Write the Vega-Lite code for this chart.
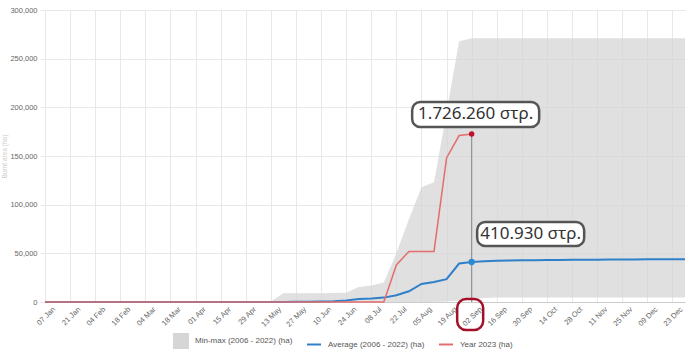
{
  "$schema": "https://vega.github.io/schema/vega-lite/v6.json",
  "width": 640,
  "height": 292,
  "autosize": {"type": "none"},
  "padding": {"left": 45, "top": 10, "right": 15, "bottom": 55},
  "background": "white",
  "config": {
    "view": {"stroke": null},
    "font": "Liberation Sans",
    "axis": {"gridColor": "#e8e8e8", "labelColor": "#666", "labelFontSize": 7.5, "titleColor": "#ccc"},
    "legend": {
      "labelFontSize": 8,
      "labelColor": "#555",
      "labelOffset": 6,
      "columnPadding": 10,
      "symbolSize": 196,
      "symbolStrokeWidth": 2
    }
  },
  "data": {
    "format": {"parse": {"date": "date:'%Y-%m-%d'"}},
    "values": [
      {"date": "2023-01-07", "min": 0, "max": 0, "avg": 0, "y2023": 0},
      {"date": "2023-01-14", "min": 0, "max": 0, "avg": 0, "y2023": 0},
      {"date": "2023-01-21", "min": 0, "max": 0, "avg": 0, "y2023": 0},
      {"date": "2023-01-28", "min": 0, "max": 0, "avg": 0, "y2023": 0},
      {"date": "2023-02-04", "min": 0, "max": 0, "avg": 0, "y2023": 0},
      {"date": "2023-02-11", "min": 0, "max": 0, "avg": 0, "y2023": 0},
      {"date": "2023-02-18", "min": 0, "max": 0, "avg": 0, "y2023": 0},
      {"date": "2023-02-25", "min": 0, "max": 0, "avg": 0, "y2023": 0},
      {"date": "2023-03-04", "min": 0, "max": 0, "avg": 0, "y2023": 0},
      {"date": "2023-03-11", "min": 0, "max": 0, "avg": 0, "y2023": 0},
      {"date": "2023-03-18", "min": 0, "max": 0, "avg": 0, "y2023": 0},
      {"date": "2023-03-25", "min": 0, "max": 0, "avg": 0, "y2023": 0},
      {"date": "2023-04-01", "min": 0, "max": 0, "avg": 0, "y2023": 0},
      {"date": "2023-04-08", "min": 0, "max": 0, "avg": 0, "y2023": 0},
      {"date": "2023-04-15", "min": 0, "max": 0, "avg": 0, "y2023": 0},
      {"date": "2023-04-22", "min": 0, "max": 0, "avg": 0, "y2023": 0},
      {"date": "2023-04-29", "min": 0, "max": 0, "avg": 0, "y2023": 0},
      {"date": "2023-05-06", "min": 0, "max": 0, "avg": 0, "y2023": 0},
      {"date": "2023-05-13", "min": 0, "max": 500, "avg": 0, "y2023": 0},
      {"date": "2023-05-20", "min": 0, "max": 9000, "avg": 100, "y2023": 0},
      {"date": "2023-05-27", "min": 0, "max": 9000, "avg": 150, "y2023": 0},
      {"date": "2023-06-03", "min": 0, "max": 9000, "avg": 250, "y2023": 0},
      {"date": "2023-06-10", "min": 0, "max": 9000, "avg": 400, "y2023": 0},
      {"date": "2023-06-17", "min": 0, "max": 9200, "avg": 700, "y2023": 0},
      {"date": "2023-06-24", "min": 0, "max": 9500, "avg": 1500, "y2023": 0},
      {"date": "2023-07-01", "min": 0, "max": 15500, "avg": 3000, "y2023": 0},
      {"date": "2023-07-08", "min": 0, "max": 17000, "avg": 3500, "y2023": 0},
      {"date": "2023-07-15", "min": 0, "max": 20000, "avg": 4500, "y2023": 0},
      {"date": "2023-07-22", "min": 0, "max": 50000, "avg": 7000, "y2023": 38000},
      {"date": "2023-07-29", "min": 0, "max": 85000, "avg": 11000, "y2023": 52000},
      {"date": "2023-08-05", "min": 0, "max": 118000, "avg": 18500, "y2023": 52000},
      {"date": "2023-08-12", "min": 0, "max": 123000, "avg": 20500, "y2023": 52000},
      {"date": "2023-08-19", "min": 500, "max": 195000, "avg": 23500, "y2023": 148000},
      {"date": "2023-08-26", "min": 1500, "max": 268000, "avg": 39500, "y2023": 171000},
      {"date": "2023-09-02", "min": 3000, "max": 271000, "avg": 41093, "y2023": 172626},
      {"date": "2023-09-09", "min": 4000, "max": 271000, "avg": 41800, "y2023": null},
      {"date": "2023-09-16", "min": 4500, "max": 271000, "avg": 42300, "y2023": null},
      {"date": "2023-09-23", "min": 4500, "max": 271000, "avg": 42600, "y2023": null},
      {"date": "2023-09-30", "min": 4500, "max": 271000, "avg": 42900, "y2023": null},
      {"date": "2023-10-07", "min": 4500, "max": 271000, "avg": 43000, "y2023": null},
      {"date": "2023-10-14", "min": 4500, "max": 271000, "avg": 43100, "y2023": null},
      {"date": "2023-10-21", "min": 4500, "max": 271000, "avg": 43200, "y2023": null},
      {"date": "2023-10-28", "min": 4500, "max": 271000, "avg": 43300, "y2023": null},
      {"date": "2023-11-04", "min": 4500, "max": 271000, "avg": 43400, "y2023": null},
      {"date": "2023-11-11", "min": 4500, "max": 271000, "avg": 43500, "y2023": null},
      {"date": "2023-11-18", "min": 4500, "max": 271000, "avg": 43600, "y2023": null},
      {"date": "2023-11-25", "min": 4500, "max": 271000, "avg": 43700, "y2023": null},
      {"date": "2023-12-02", "min": 4500, "max": 271000, "avg": 43750, "y2023": null},
      {"date": "2023-12-09", "min": 4500, "max": 271000, "avg": 43800, "y2023": null},
      {"date": "2023-12-16", "min": 4500, "max": 271000, "avg": 43850, "y2023": null},
      {"date": "2023-12-23", "min": 4500, "max": 271000, "avg": 43900, "y2023": null},
      {"date": "2023-12-30", "min": 4500, "max": 271000, "avg": 43900, "y2023": null}
    ]
  },
  "encoding": {
    "x": {
      "field": "date",
      "type": "temporal",
      "scale": {"domain": [{"year": 2023, "month": 1, "date": 7}, {"year": 2023, "month": 12, "date": 30}]},
      "axis": {
        "title": null,
        "format": "%d %b",
        "labelAngle": -45,
        "labelAlign": "right",
        "labelBaseline": "top",
        "labelPadding": 3,
        "labelOffset": 6,
        "domainColor": "#cccccc",
        "ticks": false,
        "values": [
          {"year": 2023, "month": 1, "date": 7}, {"year": 2023, "month": 1, "date": 21},
          {"year": 2023, "month": 2, "date": 4}, {"year": 2023, "month": 2, "date": 18},
          {"year": 2023, "month": 3, "date": 4}, {"year": 2023, "month": 3, "date": 18},
          {"year": 2023, "month": 4, "date": 1}, {"year": 2023, "month": 4, "date": 15},
          {"year": 2023, "month": 4, "date": 29}, {"year": 2023, "month": 5, "date": 13},
          {"year": 2023, "month": 5, "date": 27}, {"year": 2023, "month": 6, "date": 10},
          {"year": 2023, "month": 6, "date": 24}, {"year": 2023, "month": 7, "date": 8},
          {"year": 2023, "month": 7, "date": 22}, {"year": 2023, "month": 8, "date": 5},
          {"year": 2023, "month": 8, "date": 19}, {"year": 2023, "month": 9, "date": 2},
          {"year": 2023, "month": 9, "date": 16}, {"year": 2023, "month": 9, "date": 30},
          {"year": 2023, "month": 10, "date": 14}, {"year": 2023, "month": 10, "date": 28},
          {"year": 2023, "month": 11, "date": 11}, {"year": 2023, "month": 11, "date": 25},
          {"year": 2023, "month": 12, "date": 9}, {"year": 2023, "month": 12, "date": 23}
        ]
      }
    }
  },
  "layer": [
    {
      "mark": {"type": "area", "opacity": 0.75},
      "encoding": {
        "y": {
          "field": "max",
          "type": "quantitative",
          "scale": {"domain": [0, 300000]},
          "axis": {
            "title": "Burnt area (ha)",
            "titleFontSize": 6.5,
            "titleFontWeight": "normal",
            "titleX": -38,
            "titleY": 146,
            "titleAlign": "center",
            "titleBaseline": "bottom",
            "titleAngle": -90,
            "values": [0, 50000, 100000, 150000, 200000, 250000, 300000],
            "format": ",.0f",
            "domain": false,
            "tickColor": "#e8e8e8",
            "tickSize": 5,
            "labelPadding": 3
          }
        },
        "y2": {"field": "min"},
        "color": {
          "datum": "Min-max (2006 - 2022) (ha)",
          "type": "nominal",
          "scale": {
            "domain": ["Min-max (2006 - 2022) (ha)", "Average (2006 - 2022) (ha)", "Year 2023 (ha)"],
            "range": ["#d6d6d6", "#2f80c8", "#e36d6d"]
          },
          "legend": {
            "title": null,
            "orient": "none",
            "legendX": 128,
            "legendY": 323,
            "direction": "horizontal",
            "encode": {
              "symbols": {
                "update": {
                  "shape": {"signal": "datum.value === 'Min-max (2006 - 2022) (ha)' ? 'square' : 'stroke'"},
                  "fill": {"signal": "datum.value === 'Min-max (2006 - 2022) (ha)' ? '#dcdcdc' : 'transparent'"},
                  "stroke": {"signal": "datum.value === 'Min-max (2006 - 2022) (ha)' ? 'transparent' : scale('color', datum.value)"},
                  "strokeWidth": {"value": 2},
                  "opacity": {"value": 1}
                }
              }
            }
          }
        }
      }
    },
    {
      "mark": {"type": "line", "strokeWidth": 2},
      "encoding": {
        "y": {"field": "avg", "type": "quantitative"},
        "color": {
          "datum": "Average (2006 - 2022) (ha)",
          "type": "nominal",
          "legend": {
            "title": null,
            "orient": "none",
            "legendX": 128,
            "legendY": 323,
            "direction": "horizontal",
            "encode": {
              "symbols": {
                "update": {
                  "shape": {"signal": "datum.value === 'Min-max (2006 - 2022) (ha)' ? 'square' : 'stroke'"},
                  "fill": {"signal": "datum.value === 'Min-max (2006 - 2022) (ha)' ? '#dcdcdc' : 'transparent'"},
                  "stroke": {"signal": "datum.value === 'Min-max (2006 - 2022) (ha)' ? 'transparent' : scale('color', datum.value)"},
                  "strokeWidth": {"value": 2},
                  "opacity": {"value": 1}
                }
              }
            }
          }
        }
      }
    },
    {
      "transform": [{"filter": "isValid(datum.y2023)"}],
      "mark": {"type": "line", "strokeWidth": 1.5},
      "encoding": {
        "y": {"field": "y2023", "type": "quantitative"},
        "color": {
          "datum": "Year 2023 (ha)",
          "type": "nominal",
          "legend": {
            "title": null,
            "orient": "none",
            "legendX": 128,
            "legendY": 323,
            "direction": "horizontal",
            "encode": {
              "symbols": {
                "update": {
                  "shape": {"signal": "datum.value === 'Min-max (2006 - 2022) (ha)' ? 'square' : 'stroke'"},
                  "fill": {"signal": "datum.value === 'Min-max (2006 - 2022) (ha)' ? '#dcdcdc' : 'transparent'"},
                  "stroke": {"signal": "datum.value === 'Min-max (2006 - 2022) (ha)' ? 'transparent' : scale('color', datum.value)"},
                  "strokeWidth": {"value": 2},
                  "opacity": {"value": 1}
                }
              }
            }
          }
        }
      }
    },
    {
      "transform": [{"filter": "month(datum.date) == 8 && date(datum.date) == 2"}],
      "mark": {"type": "rule", "color": "#888", "strokeWidth": 1},
      "encoding": {"y": {"field": "y2023", "type": "quantitative"}, "y2": {"datum": 0}}
    },
    {
      "transform": [{"filter": "month(datum.date) == 8 && date(datum.date) == 2"}],
      "mark": {"type": "circle", "color": "#c0102a", "size": 30, "opacity": 1},
      "encoding": {"y": {"field": "y2023", "type": "quantitative"}}
    },
    {
      "transform": [{"filter": "month(datum.date) == 8 && date(datum.date) == 2"}],
      "mark": {"type": "circle", "color": "#2a8ad4", "size": 40, "opacity": 1},
      "encoding": {"y": {"field": "avg", "type": "quantitative"}}
    },
    {
      "transform": [{"filter": "month(datum.date) == 8 && date(datum.date) == 2"}],
      "mark": {"type": "rect", "width": 127, "height": 25, "cornerRadius": 8, "fill": "white", "stroke": "#555", "strokeWidth": 2.5, "xOffset": 4, "yOffset": -19.5},
      "encoding": {"y": {"field": "y2023", "type": "quantitative"}}
    },
    {
      "transform": [{"filter": "month(datum.date) == 8 && date(datum.date) == 2"}],
      "mark": {"type": "text", "text": "1.726.260 στρ.", "font": "Noto Sans", "fontSize": 17, "color": "#333", "align": "center", "baseline": "middle", "dx": 4, "dy": -19.5},
      "encoding": {"y": {"field": "y2023", "type": "quantitative"}}
    },
    {
      "transform": [{"filter": "month(datum.date) == 8 && date(datum.date) == 2"}],
      "mark": {"type": "rect", "width": 107, "height": 24, "cornerRadius": 8, "fill": "white", "stroke": "#555", "strokeWidth": 2.5, "xOffset": 59, "yOffset": -28},
      "encoding": {"y": {"field": "avg", "type": "quantitative"}}
    },
    {
      "transform": [{"filter": "month(datum.date) == 8 && date(datum.date) == 2"}],
      "mark": {"type": "text", "text": "410.930 στρ.", "font": "Noto Sans", "fontSize": 17, "color": "#333", "align": "center", "baseline": "middle", "dx": 59, "dy": -28},
      "encoding": {"y": {"field": "avg", "type": "quantitative"}}
    },
    {
      "transform": [{"filter": "month(datum.date) == 8 && date(datum.date) == 2"}],
      "mark": {"type": "rect", "width": 26, "height": 31, "cornerRadius": 9, "fill": "transparent", "stroke": "#a3102a", "strokeWidth": 2.5, "xOffset": -1.5, "yOffset": 15.5},
      "encoding": {"y": {"field": "min", "type": "quantitative"}}
    }
  ]
}
